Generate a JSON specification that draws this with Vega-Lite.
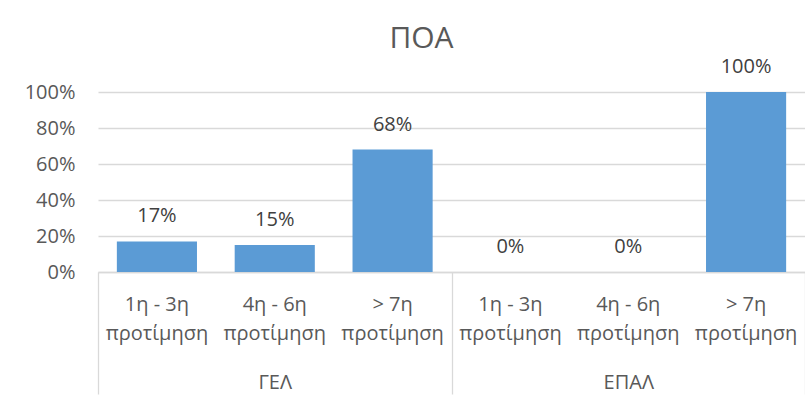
{
  "$schema": "https://vega.github.io/schema/vega-lite/v6.json",
  "width": 707,
  "height": 180,
  "autosize": {"type": "none"},
  "padding": {"left": 98, "top": 92, "right": 0, "bottom": 132},
  "background": "white",
  "config": {
    "view": {"stroke": null},
    "font": "Open Sans",
    "text": {"font": "Open Sans"}
  },
  "title": {
    "text": "ΠΟΑ",
    "font": "Open Sans",
    "fontSize": 30,
    "fontWeight": "normal",
    "color": "#595959",
    "anchor": "middle",
    "frame": "group",
    "dx": -30,
    "offset": -21,
    "baseline": "alphabetic"
  },
  "data": {
    "values": [
      {"group": "ΓΕΛ", "key": "ΓΕΛ|1η - 3η", "value": 0.17},
      {"group": "ΓΕΛ", "key": "ΓΕΛ|4η - 6η", "value": 0.15},
      {"group": "ΓΕΛ", "key": "ΓΕΛ|> 7η", "value": 0.68},
      {"group": "ΕΠΑΛ", "key": "ΕΠΑΛ|1η - 3η", "value": 0.0},
      {"group": "ΕΠΑΛ", "key": "ΕΠΑΛ|4η - 6η", "value": 0.0},
      {"group": "ΕΠΑΛ", "key": "ΕΠΑΛ|> 7η", "value": 1.0}
    ]
  },
  "layer": [
    {
      "encoding": {
        "x": {
          "field": "key",
          "type": "nominal",
          "sort": null,
          "scale": {"paddingInner": 0.32, "paddingOuter": 0.16},
          "axis": {
            "orient": "bottom",
            "title": null,
            "domain": false,
            "ticks": false,
            "labelAngle": 0,
            "labelPadding": 22,
            "labelFont": "Open Sans",
            "labelFontSize": 20,
            "labelColor": "#595959",
            "labelLineHeight": 29,
            "labelExpr": "[split(datum.value, '|')[1], 'προτίμηση']"
          }
        },
        "y": {
          "field": "value",
          "type": "quantitative",
          "scale": {"domain": [0, 1], "nice": false},
          "axis": {
            "title": null,
            "values": [0, 0.2, 0.4, 0.6, 0.8, 1],
            "format": ".0%",
            "domain": false,
            "ticks": false,
            "labelPadding": 23,
            "labelFont": "Open Sans",
            "labelFontSize": 20,
            "labelColor": "#595959",
            "gridColor": "#d9d9d9",
            "gridWidth": 1.3
          }
        }
      },
      "layer": [
        {"mark": {"type": "bar", "color": "#5B9BD5"}},
        {
          "mark": {"type": "text", "baseline": "middle", "dy": -25, "fontSize": 20, "color": "#404040", "font": "Open Sans"},
          "encoding": {"text": {"field": "value", "type": "quantitative", "format": ".0%"}}
        }
      ]
    },
    {
      "mark": {"type": "point", "opacity": 0},
      "encoding": {
        "x": {
          "field": "group",
          "type": "nominal",
          "sort": null,
          "scale": {"paddingInner": 0, "paddingOuter": 0},
          "axis": {
            "orient": "bottom",
            "title": null,
            "labelAngle": 0,
            "domain": true,
            "domainColor": "#d9d9d9",
            "domainWidth": 1.3,
            "ticks": true,
            "tickBand": "extent",
            "tickSize": 122,
            "tickColor": "#d9d9d9",
            "tickWidth": 1.3,
            "labelPadding": -22,
            "labelFont": "Open Sans",
            "labelFontSize": 20,
            "labelColor": "#595959"
          }
        }
      }
    }
  ],
  "resolve": {"scale": {"x": "independent"}, "axis": {"x": "independent"}}
}
